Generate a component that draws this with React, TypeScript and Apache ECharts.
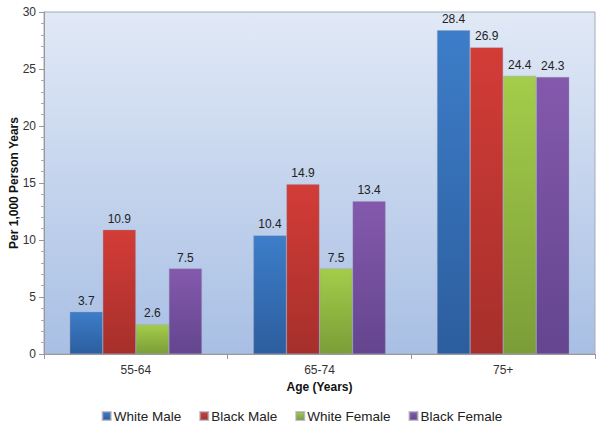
import React, { useEffect, useRef } from "react";
import * as echarts from "echarts";

const categories = ["55-64", "65-74", "75+"];
const whiteMale = [3.7, 10.4, 28.4];
const blackMale = [10.9, 14.9, 26.9];
const whiteFemale = [2.6, 7.5, 24.4];
const blackFemale = [7.5, 13.4, 24.3];
const seriesNames = ["White Male", "Black Male", "White Female", "Black Female"];

const grad = (top: string, bottom: string) =>
  new echarts.graphic.LinearGradient(0, 0, 0, 1, [
    { offset: 0, color: top },
    { offset: 1, color: bottom },
  ]);

export default function App() {
  const ref = useRef<HTMLDivElement>(null);
  useEffect(() => {
    const chart = echarts.init(ref.current!, null, { renderer: "svg" });
    const font = "Liberation Sans, Arial, sans-serif";
    const colors = [
      ["#3d7dc9", "#2c5e9e"],
      ["#d33c37", "#a62f2b"],
      ["#a4cd4a", "#7b9d38"],
      ["#8459ad", "#64458e"],
    ];
    const data = [whiteMale, blackMale, whiteFemale, blackFemale];
    chart.setOption({
      animation: false,
      textStyle: { fontFamily: font },
      color: colors.map((c) => c[0]),
      grid: {
        left: 44,
        right: 9,
        top: 12,
        bottom: 73,
        outerBoundsMode: "none",
        containLabel: false,
        show: true,
        borderWidth: 1,
        borderColor: "#a3abba",
        backgroundColor: grad("#e1e9f6", "#a8bfe4"),
      },
      legend: {
        top: 404,
        left: "center",
        itemWidth: 8,
        itemHeight: 8,
        itemGap: 18,
        icon: "rect",
        textStyle: { fontSize: 13.5, color: "#222", fontFamily: font, padding: [0, 0, 0, -2] },
        data: seriesNames,
      },
      xAxis: {
        type: "category",
        data: categories,
        name: "Age (Years)",
        nameLocation: "middle",
        nameGap: 27,
        nameMoveOverlap: false,
        nameTextStyle: { fontWeight: "bold", fontSize: 12, color: "#111" },
        axisLine: { lineStyle: { color: "#999" } },
        axisTick: { show: true, length: 5, lineStyle: { color: "#999" } },
        axisLabel: { fontSize: 12, color: "#333", margin: 10 },
      },
      yAxis: {
        type: "value",
        min: 0,
        max: 30,
        interval: 5,
        name: "Per 1,000 Person Years",
        nameLocation: "middle",
        nameGap: 24,
        nameMoveOverlap: false,
        nameTextStyle: { fontWeight: "bold", fontSize: 12, color: "#111" },
        axisLine: { show: true, lineStyle: { color: "#999" } },
        axisTick: { show: true, length: 5, lineStyle: { color: "#999" } },
        minorTick: { show: true, splitNumber: 5, length: 3, lineStyle: { color: "#aaa" } },
        splitLine: { show: false },
        axisLabel: { fontSize: 12, color: "#333", margin: 8 },
      },
      series: seriesNames.map((name, i) => ({
        type: "bar",
        name,
        data: data[i],
        barGap: "0%",
        barCategoryGap: "28%",
        itemStyle: {
          color: grad(colors[i][0], colors[i][1]),
          borderColor: "rgba(150,150,170,0.6)",
          borderWidth: 0.6,
        },
        label: {
          show: true,
          position: "top",
          fontSize: 12,
          color: "#222",
          distance: 5,
          formatter: (p: any) => p.value.toFixed(1),
        },
      })),
    });
    return () => chart.dispose();
  }, []);
  return (
    <div
      ref={ref}
      style={{ position: "absolute", left: 0, top: 0, width: 604, height: 427, background: "#fff" }}
    />
  );
}
